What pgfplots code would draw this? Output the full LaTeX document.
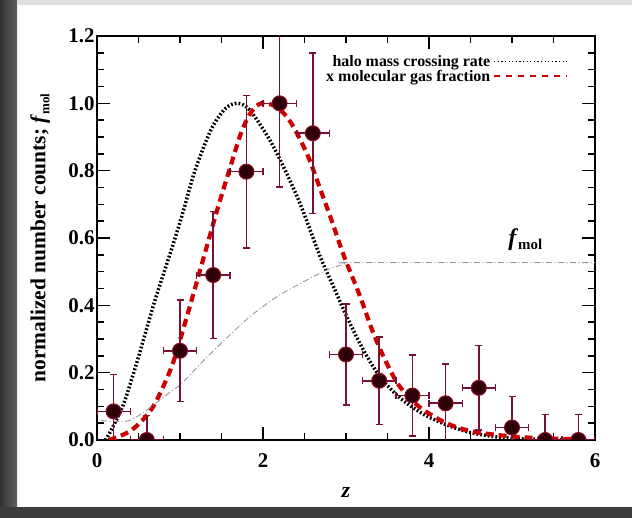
\documentclass[border=0pt]{standalone}
\usepackage{pgfplots}
\pgfplotsset{compat=1.18}
\usepackage{fontspec}
\setmainfont{Liberation Serif}

\definecolor{errc}{RGB}{122,15,52}
\definecolor{ptfill}{RGB}{46,0,8}
\definecolor{ptedge}{RGB}{140,10,34}
\definecolor{fitred}{RGB}{205,0,0}
\definecolor{fmolgray}{RGB}{150,150,150}

\begin{document}
\begin{tikzpicture}[x=1bp,y=1bp]
\useasboundingbox (0,0) rectangle (632,518);
% page with a dark shadow along the left and bottom edges
\fill[white] (0,0) rectangle (632,518);
\shade[left color=black!80, right color=black!62] (0,0) rectangle (17,518);
\fill[black!76] (0,0) rectangle (632,11);
\fill[black!13] (17,513) rectangle (632,518);

\begin{axis}[
  at={(97bp,78bp)}, anchor=south west,
  scale only axis, width=498bp, height=404bp,
  xmin=0, xmax=6, ymin=0, ymax=1.2,
  xtick={0,2,4,6}, ytick={0,0.2,0.4,0.6,0.8,1.0,1.2},
  minor x tick num=3, minor y tick num=3,
  major tick length=13bp, minor tick length=7bp,
  tick align=inside,
  every tick/.style={black, line width=1.4bp},
  axis line style={line width=2.2bp},
  /pgf/number format/assume math mode=true,
  tick label style={font=\fontsize{21}{24}\selectfont\bfseries},
  x tick label style={yshift=-10bp},
  y tick label style={xshift=1bp, /pgf/number format/fixed, /pgf/number format/fixed zerofill, /pgf/number format/precision=1},
  xlabel={\textit{z}},
  ylabel={normalized number counts; \textit{f}\raisebox{-4bp}{\fontsize{13}{14}\selectfont\bfseries mol}},
  every axis x label/.style={at={(axis description cs:0.5,-0.129)}, anchor=center, font=\fontsize{22}{24}\selectfont\bfseries},
  every axis y label/.style={at={(axis description cs:-0.114,0.5)}, rotate=90, anchor=center, font=\fontsize{21.5}{24}\selectfont\bfseries},
  clip marker paths=true,
  legend plot pos=right,
  legend cell align=right,
  legend style={at={(axis description cs:0.946,0.955)}, anchor=north east,
    draw=none, fill=none, inner sep=0pt, row sep=0pt,
    font=\fontsize{16}{18}\selectfont\bfseries,
    nodes={inner xsep=3bp, inner ysep=1bp}},
]

% halo mass crossing rate
\addplot[black, line width=3.5bp, dash pattern=on 1.8bp off 2bp, smooth,
  legend image code/.code={\draw[black, line width=1.3bp, dash pattern=on 1.3bp off 2.3bp] (0bp,0bp) -- (73bp,0bp);}]
  coordinates {
  (0.10,0.000) (0.14,0.015) (0.25,0.068) (0.34,0.120) (0.50,0.247)
  (0.70,0.416) (0.90,0.568) (1.04,0.680) (1.18,0.800) (1.38,0.925)
  (1.55,0.985) (1.70,1.000) (1.84,0.980) (2.06,0.900) (2.24,0.815)
  (2.45,0.700) (2.69,0.544) (2.85,0.455) (3.01,0.366) (3.21,0.267)
  (3.41,0.188) (3.65,0.125) (3.93,0.077) (4.21,0.045) (4.50,0.022)
  (4.86,0.008) (5.20,0.003) (5.60,0.001) (5.90,0.000)};
\addlegendentry{halo mass crossing rate}

% crossing rate times molecular gas fraction
\addplot[fitred, line width=4.2bp, dash pattern=on 8bp off 5bp, smooth,
  legend image code/.code={\draw[fitred, line width=1.6bp, dash pattern=on 6bp off 6bp] (0bp,0bp) -- (73bp,0bp);}]
  coordinates {
  (0.14,0.000) (0.28,0.012) (0.42,0.030) (0.56,0.062) (0.70,0.109)
  (0.90,0.218) (1.06,0.347) (1.18,0.450) (1.30,0.555) (1.46,0.693)
  (1.62,0.822) (1.74,0.915) (1.86,0.975) (1.98,1.000) (2.16,0.990)
  (2.33,0.945) (2.53,0.850) (2.69,0.745) (2.83,0.650) (2.97,0.550)
  (3.17,0.426) (3.33,0.317) (3.49,0.228) (3.65,0.158) (3.89,0.097)
  (4.21,0.050) (4.53,0.025) (5.02,0.010) (5.50,0.004) (5.90,0.002)};
\addlegendentry{x molecular gas fraction}

% molecular gas fraction
\addplot[fmolgray, line width=0.9bp, dash pattern=on 6bp off 2.5bp on 1bp off 2.5bp, smooth, forget plot]
  coordinates {
  (0.05,0.058) (0.20,0.055) (0.38,0.057) (0.55,0.080) (0.70,0.108)
  (0.86,0.138) (1.02,0.168) (1.30,0.240) (1.58,0.307) (1.84,0.366)
  (2.17,0.426) (2.49,0.470) (2.77,0.505) (3.00,0.524) (3.10,0.527)
  (6.00,0.527)};

% binned, normalized number counts
\addplot[only marks, mark=*, mark size=7.5bp,
  mark options={fill=ptfill, draw=ptedge, line width=1bp},
  error bars/.cd, x dir=both, x explicit, y dir=both, y explicit,
  error bar style={line width=1.6bp, color=errc},
  error mark options={rotate=90, mark size=3.5bp, line width=1.4bp, color=errc}]
  coordinates {
  (0.2,0.085) +- (0.2,0.110)
  (0.6,0.000) +- (0.2,0.072)
  (1.0,0.265) +- (0.2,0.151)
  (1.4,0.490) +- (0.2,0.188)
  (1.8,0.797) +- (0.2,0.227)
  (2.2,1.000) +- (0.2,0.248)
  (2.6,0.911) +- (0.2,0.238)
  (3.0,0.254) +- (0.2,0.150)
  (3.4,0.176) +- (0.2,0.130)
  (3.8,0.132) +- (0.2,0.120)
  (4.2,0.109) +- (0.2,0.117)
  (4.6,0.155) +- (0.2,0.125)
  (5.0,0.037) +- (0.2,0.092)
  (5.4,0.000) +- (0.2,0.076)
  (5.8,0.000) +- (0.2,0.076)};

\node[font=\fontsize{24}{26}\selectfont\bfseries, anchor=center] at (axis cs:5.16,0.595)
  {\textit{f}\raisebox{-4bp}{\fontsize{15}{16}\selectfont\bfseries mol}};
\end{axis}
\end{tikzpicture}
\end{document}
